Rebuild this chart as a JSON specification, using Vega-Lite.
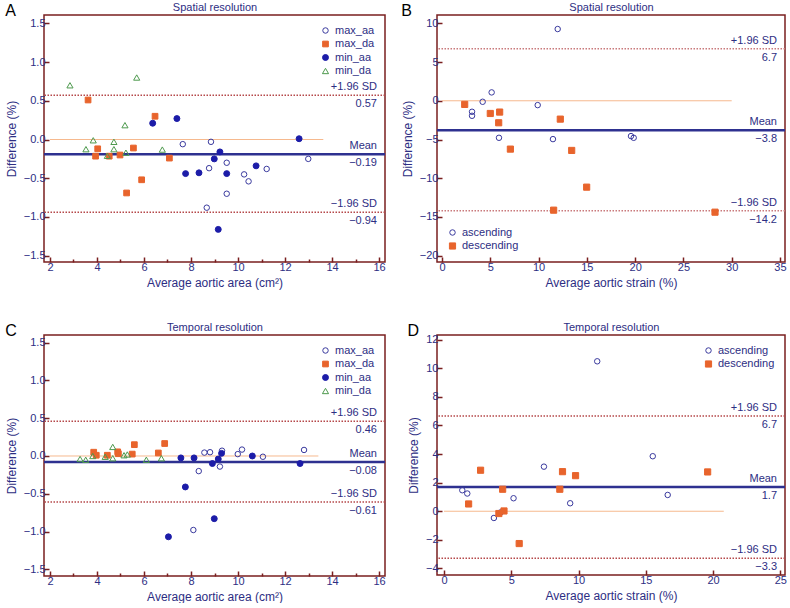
{
  "$schema": "https://vega.github.io/schema/vega-lite/v6.json",
  "padding": {"left": 4, "top": 0, "right": 0, "bottom": 0},
  "background": "white",
  "columns": 2,
  "spacing": {"row": 31, "column": 13},
  "resolve": {"scale": {"shape": "independent", "fill": "independent", "stroke": "independent", "size": "independent"}},
  "concat": [
    {
      "width": 341, "height": 247,
      "title": {"text": "A"},
      "resolve": {"axis": {"x": "independent", "y": "independent"}},
      "layer": [
        {
          "data": {"values": [{"x": 2, "x2": 13.63, "y": 0}]},
          "mark": {"type": "rule", "color": "#F6B98E", "strokeWidth": 1},
          "encoding": {
            "x": {"field": "x", "type": "quantitative", "scale": {"domain": [1.745, 16.255], "nice": false, "zero": false},
              "axis": {"orient": "top", "title": "Spatial resolution", "labels": false, "ticks": false, "domain": false, "titlePadding": 3, "titleFontSize": 11}},
            "x2": {"field": "x2"},
            "y": {"field": "y", "type": "quantitative", "axis": null}
          }
        },
        {
          "data": {"values": [{"v": 0.57}, {"v": -0.94}]},
          "mark": {"type": "rule", "color": "#B5484A", "strokeWidth": 1.5, "strokeDash": [1.5, 1.5]},
          "encoding": {"y": {"field": "v", "type": "quantitative", "axis": null}}
        },
        {
          "data": {"values": [{"v": -0.19}]},
          "mark": {"type": "rule", "color": "#2E3190", "strokeWidth": 2.5},
          "encoding": {"y": {"field": "v", "type": "quantitative", "axis": null}}
        },
        {
          "data": {"values": [
            {"s": "max_aa", "x": 7.65, "y": -0.06}, {"s": "max_aa", "x": 8.85, "y": -0.03}, {"s": "max_aa", "x": 8.77, "y": -0.37},
            {"s": "max_aa", "x": 9.52, "y": -0.30}, {"s": "max_aa", "x": 10.26, "y": -0.45}, {"s": "max_aa", "x": 10.45, "y": -0.54},
            {"s": "max_aa", "x": 11.22, "y": -0.38}, {"s": "max_aa", "x": 12.99, "y": -0.25}, {"s": "max_aa", "x": 9.52, "y": -0.70},
            {"s": "max_aa", "x": 8.67, "y": -0.88},
            {"s": "max_da", "x": 3.62, "y": 0.51}, {"s": "max_da", "x": 6.47, "y": 0.30}, {"s": "max_da", "x": 4.03, "y": -0.12},
            {"s": "max_da", "x": 3.94, "y": -0.215}, {"s": "max_da", "x": 4.52, "y": -0.215}, {"s": "max_da", "x": 4.98, "y": -0.20},
            {"s": "max_da", "x": 5.55, "y": -0.11}, {"s": "max_da", "x": 7.08, "y": -0.24}, {"s": "max_da", "x": 5.90, "y": -0.52},
            {"s": "max_da", "x": 5.26, "y": -0.69},
            {"s": "min_aa", "x": 6.37, "y": 0.21}, {"s": "min_aa", "x": 7.40, "y": 0.27}, {"s": "min_aa", "x": 12.6, "y": 0.01},
            {"s": "min_aa", "x": 9.23, "y": -0.16}, {"s": "min_aa", "x": 8.99, "y": -0.25}, {"s": "min_aa", "x": 7.77, "y": -0.44},
            {"s": "min_aa", "x": 8.34, "y": -0.43}, {"s": "min_aa", "x": 9.52, "y": -0.44}, {"s": "min_aa", "x": 10.77, "y": -0.34},
            {"s": "min_aa", "x": 9.16, "y": -1.16},
            {"s": "min_da", "x": 2.85, "y": 0.70}, {"s": "min_da", "x": 5.69, "y": 0.80}, {"s": "min_da", "x": 5.19, "y": 0.185},
            {"s": "min_da", "x": 3.84, "y": -0.01}, {"s": "min_da", "x": 4.72, "y": -0.03}, {"s": "min_da", "x": 3.53, "y": -0.125},
            {"s": "min_da", "x": 4.72, "y": -0.125}, {"s": "min_da", "x": 4.44, "y": -0.21}, {"s": "min_da", "x": 5.23, "y": -0.17},
            {"s": "min_da", "x": 6.78, "y": -0.13}
          ]},
          "mark": {"type": "point", "filled": true, "strokeWidth": 1, "opacity": 1},
          "encoding": {
            "x": {"field": "x", "type": "quantitative",
              "axis": {"title": "Average aortic area (cm²)", "values": [2,3,4,5,6,7,8,9,10,11,12,13,14,15,16], "format": "d",
                "labelExpr": "datum.value % 2 === 0 ? datum.label : ''",
                "tickSize": {"condition": {"test": "datum.value % 2 !== 0", "value": -3}, "value": -5}}},
            "y": {"field": "y", "type": "quantitative", "scale": {"domain": [-1.581, 1.607], "nice": false, "zero": false},
              "axis": {"title": "Difference (%)", "values": [-1.5, -1, -0.5, 0, 0.5, 1, 1.5], "format": ".1f", "tickSize": -5}},
            "shape": {"field": "s", "type": "nominal", "scale": {"domain": ["max_aa", "max_da", "min_aa", "min_da"], "range": ["circle", "square", "circle", "triangle-up"]},
              "legend": {"title": null, "orient": "top-right", "offset": 10}},
            "fill": {"field": "s", "type": "nominal", "scale": {"domain": ["max_aa", "max_da", "min_aa", "min_da"], "range": ["transparent", "#E8642C", "#1C1CA8", "transparent"]},
              "legend": {"title": null, "orient": "top-right", "offset": 10}},
            "stroke": {"field": "s", "type": "nominal", "scale": {"domain": ["max_aa", "max_da", "min_aa", "min_da"], "range": ["#3A3A9E", "#E8642C", "#1C1CA8", "#4E9A4E"]},
              "legend": {"title": null, "orient": "top-right", "offset": 10}},
            "size": {"field": "s", "type": "nominal", "scale": {"domain": ["max_aa", "max_da", "min_aa", "min_da"], "range": [30, 38, 18, 42]},
              "legend": {"title": null, "orient": "top-right", "offset": 10}}
          }
        },
        {
          "data": {"values": [{"v": 0.57, "t": "+1.96 SD"}, {"v": -0.19, "t": "Mean"}, {"v": -0.94, "t": "−1.96 SD"}]},
          "mark": {"type": "text", "align": "right", "baseline": "middle", "dx": -8, "dy": -8, "fontSize": 11, "color": "#2D2E83"},
          "encoding": {"x": {"datum": 16.255, "type": "quantitative", "axis": null}, "y": {"field": "v", "type": "quantitative", "axis": null}, "text": {"field": "t"}}
        },
        {
          "data": {"values": [{"v": 0.57, "t": "0.57"}, {"v": -0.19, "t": "−0.19"}, {"v": -0.94, "t": "−0.94"}]},
          "mark": {"type": "text", "align": "right", "baseline": "middle", "dx": -8, "dy": 9, "fontSize": 11, "color": "#2D2E83"},
          "encoding": {"x": {"datum": 16.255, "type": "quantitative", "axis": null}, "y": {"field": "v", "type": "quantitative", "axis": null}, "text": {"field": "t"}}
        }
      ]
    },
    {
      "width": 348, "height": 247,
      "title": {"text": "B"},
      "resolve": {"axis": {"x": "independent", "y": "independent"}},
      "layer": [
        {
          "data": {"values": [{"x": 0, "x2": 30, "y": 0}]},
          "mark": {"type": "rule", "color": "#F6B98E", "strokeWidth": 1},
          "encoding": {
            "x": {"field": "x", "type": "quantitative", "scale": {"domain": [-0.518, 35.518], "nice": false, "zero": false},
              "axis": {"orient": "top", "title": "Spatial resolution", "labels": false, "ticks": false, "domain": false, "titlePadding": 3, "titleFontSize": 11}},
            "x2": {"field": "x2"},
            "y": {"field": "y", "type": "quantitative", "axis": null}
          }
        },
        {
          "data": {"values": [{"v": 6.7}, {"v": -14.2}]},
          "mark": {"type": "rule", "color": "#C97A7C", "strokeWidth": 1.5, "strokeDash": [1.5, 1.5]},
          "encoding": {"y": {"field": "v", "type": "quantitative", "axis": null}}
        },
        {
          "data": {"values": [{"v": -3.8}]},
          "mark": {"type": "rule", "color": "#2E3190", "strokeWidth": 2.5},
          "encoding": {"y": {"field": "v", "type": "quantitative", "axis": null}}
        },
        {
          "data": {"values": [
            {"s": "ascending", "x": 11.98, "y": 9.26}, {"s": "ascending", "x": 5.14, "y": 1.08}, {"s": "ascending", "x": 4.21, "y": -0.13},
            {"s": "ascending", "x": 3.11, "y": -1.42}, {"s": "ascending", "x": 3.11, "y": -1.94}, {"s": "ascending", "x": 9.91, "y": -0.56},
            {"s": "ascending", "x": 5.90, "y": -4.78}, {"s": "ascending", "x": 11.49, "y": -4.95}, {"s": "ascending", "x": 19.57, "y": -4.56},
            {"s": "ascending", "x": 19.85, "y": -4.78},
            {"s": "descending", "x": 2.35, "y": -0.47}, {"s": "descending", "x": 5.0, "y": -1.64}, {"s": "descending", "x": 5.97, "y": -1.46},
            {"s": "descending", "x": 5.87, "y": -2.84}, {"s": "descending", "x": 12.25, "y": -2.37}, {"s": "descending", "x": 7.08, "y": -6.24},
            {"s": "descending", "x": 13.43, "y": -6.41}, {"s": "descending", "x": 14.98, "y": -11.15}, {"s": "descending", "x": 11.56, "y": -14.12},
            {"s": "descending", "x": 28.27, "y": -14.38}
          ]},
          "mark": {"type": "point", "filled": true, "strokeWidth": 1, "opacity": 1},
          "encoding": {
            "x": {"field": "x", "type": "quantitative",
              "axis": {"title": "Average aortic strain (%)", "values": [0, 5, 10, 15, 20, 25, 30, 35], "format": "d", "tickSize": -5}},
            "y": {"field": "y", "type": "quantitative", "scale": {"domain": [-20.81, 11.07], "nice": false, "zero": false},
              "axis": {"title": "Difference (%)", "values": [-20, -15, -10, -5, 0, 5, 10], "format": "d", "tickSize": -5}},
            "shape": {"field": "s", "type": "nominal", "scale": {"domain": ["ascending", "descending"], "range": ["circle", "square"]},
              "legend": {"title": null, "orient": "bottom-left", "offset": 10}},
            "fill": {"field": "s", "type": "nominal", "scale": {"domain": ["ascending", "descending"], "range": ["transparent", "#E8642C"]},
              "legend": {"title": null, "orient": "bottom-left", "offset": 10}},
            "stroke": {"field": "s", "type": "nominal", "scale": {"domain": ["ascending", "descending"], "range": ["#3A3A9E", "#E8642C"]},
              "legend": {"title": null, "orient": "bottom-left", "offset": 10}},
            "size": {"field": "s", "type": "nominal", "scale": {"domain": ["ascending", "descending"], "range": [30, 38]},
              "legend": {"title": null, "orient": "bottom-left", "offset": 10}}
          }
        },
        {
          "data": {"values": [{"v": 6.7, "t": "+1.96 SD"}, {"v": -3.8, "t": "Mean"}, {"v": -14.2, "t": "−1.96 SD"}]},
          "mark": {"type": "text", "align": "right", "baseline": "middle", "dx": -8, "dy": -8, "fontSize": 11, "color": "#2D2E83"},
          "encoding": {"x": {"datum": 35.518, "type": "quantitative", "axis": null}, "y": {"field": "v", "type": "quantitative", "axis": null}, "text": {"field": "t"}}
        },
        {
          "data": {"values": [{"v": 6.7, "t": "6.7"}, {"v": -3.8, "t": "−3.8"}, {"v": -14.2, "t": "−14.2"}]},
          "mark": {"type": "text", "align": "right", "baseline": "middle", "dx": -8, "dy": 9, "fontSize": 11, "color": "#2D2E83"},
          "encoding": {"x": {"datum": 35.518, "type": "quantitative", "axis": null}, "y": {"field": "v", "type": "quantitative", "axis": null}, "text": {"field": "t"}}
        }
      ]
    },
    {
      "width": 341, "height": 241,
      "title": {"text": "C"},
      "resolve": {"axis": {"x": "independent", "y": "independent"}},
      "layer": [
        {
          "data": {"values": [{"x": 2, "x2": 13.42, "y": 0}]},
          "mark": {"type": "rule", "color": "#F6B98E", "strokeWidth": 1},
          "encoding": {
            "x": {"field": "x", "type": "quantitative", "scale": {"domain": [1.745, 16.255], "nice": false, "zero": false},
              "axis": {"orient": "top", "title": "Temporal resolution", "labels": false, "ticks": false, "domain": false, "titlePadding": 3, "titleFontSize": 11}},
            "x2": {"field": "x2"},
            "y": {"field": "y", "type": "quantitative", "axis": null}
          }
        },
        {
          "data": {"values": [{"v": 0.46}, {"v": -0.61}]},
          "mark": {"type": "rule", "color": "#B5484A", "strokeWidth": 1.5, "strokeDash": [1.5, 1.5]},
          "encoding": {"y": {"field": "v", "type": "quantitative", "axis": null}}
        },
        {
          "data": {"values": [{"v": -0.08}]},
          "mark": {"type": "rule", "color": "#2E3190", "strokeWidth": 2.5},
          "encoding": {"y": {"field": "v", "type": "quantitative", "axis": null}}
        },
        {
          "data": {"values": [
            {"s": "max_aa", "x": 8.57, "y": 0.045}, {"s": "max_aa", "x": 8.81, "y": 0.05}, {"s": "max_aa", "x": 9.32, "y": 0.07},
            {"s": "max_aa", "x": 10.17, "y": 0.085}, {"s": "max_aa", "x": 9.99, "y": 0.025}, {"s": "max_aa", "x": 11.06, "y": -0.01},
            {"s": "max_aa", "x": 12.81, "y": 0.08}, {"s": "max_aa", "x": 9.23, "y": -0.14}, {"s": "max_aa", "x": 8.33, "y": -0.20},
            {"s": "max_aa", "x": 8.10, "y": -0.98},
            {"s": "max_da", "x": 3.86, "y": 0.05}, {"s": "max_da", "x": 3.97, "y": 0.01}, {"s": "max_da", "x": 4.44, "y": 0.01},
            {"s": "max_da", "x": 4.88, "y": 0.055}, {"s": "max_da", "x": 4.91, "y": 0.03}, {"s": "max_da", "x": 5.50, "y": 0.025},
            {"s": "max_da", "x": 5.59, "y": 0.15}, {"s": "max_da", "x": 6.61, "y": 0.04}, {"s": "max_da", "x": 6.88, "y": 0.165},
            {"s": "min_aa", "x": 7.57, "y": -0.025}, {"s": "min_aa", "x": 8.13, "y": -0.025}, {"s": "min_aa", "x": 9.16, "y": -0.04},
            {"s": "min_aa", "x": 9.30, "y": 0.035}, {"s": "min_aa", "x": 8.91, "y": -0.10}, {"s": "min_aa", "x": 10.61, "y": 0.0},
            {"s": "min_aa", "x": 12.64, "y": -0.10}, {"s": "min_aa", "x": 7.76, "y": -0.41}, {"s": "min_aa", "x": 8.99, "y": -0.83},
            {"s": "min_aa", "x": 7.04, "y": -1.07},
            {"s": "min_da", "x": 3.28, "y": -0.04}, {"s": "min_da", "x": 3.52, "y": -0.05}, {"s": "min_da", "x": 3.82, "y": 0.0},
            {"s": "min_da", "x": 4.35, "y": -0.01}, {"s": "min_da", "x": 4.67, "y": 0.12}, {"s": "min_da", "x": 4.67, "y": -0.03},
            {"s": "min_da", "x": 5.15, "y": 0.01}, {"s": "min_da", "x": 5.29, "y": 0.02}, {"s": "min_da", "x": 6.10, "y": -0.05},
            {"s": "min_da", "x": 6.74, "y": -0.03}
          ]},
          "mark": {"type": "point", "filled": true, "strokeWidth": 1, "opacity": 1},
          "encoding": {
            "x": {"field": "x", "type": "quantitative",
              "axis": {"title": "Average aortic area (cm²)", "values": [2,3,4,5,6,7,8,9,10,11,12,13,14,15,16], "format": "d",
                "labelExpr": "datum.value % 2 === 0 ? datum.label : ''",
                "tickSize": {"condition": {"test": "datum.value % 2 !== 0", "value": -3}, "value": -5}}},
            "y": {"field": "y", "type": "quantitative", "scale": {"domain": [-1.589, 1.602], "nice": false, "zero": false},
              "axis": {"title": "Difference (%)", "values": [-1.5, -1, -0.5, 0, 0.5, 1, 1.5], "format": ".1f", "tickSize": -5}},
            "shape": {"field": "s", "type": "nominal", "scale": {"domain": ["max_aa", "max_da", "min_aa", "min_da"], "range": ["circle", "square", "circle", "triangle-up"]},
              "legend": {"title": null, "orient": "top-right", "offset": 10}},
            "fill": {"field": "s", "type": "nominal", "scale": {"domain": ["max_aa", "max_da", "min_aa", "min_da"], "range": ["transparent", "#E8642C", "#1C1CA8", "transparent"]},
              "legend": {"title": null, "orient": "top-right", "offset": 10}},
            "stroke": {"field": "s", "type": "nominal", "scale": {"domain": ["max_aa", "max_da", "min_aa", "min_da"], "range": ["#3A3A9E", "#E8642C", "#1C1CA8", "#4E9A4E"]},
              "legend": {"title": null, "orient": "top-right", "offset": 10}},
            "size": {"field": "s", "type": "nominal", "scale": {"domain": ["max_aa", "max_da", "min_aa", "min_da"], "range": [30, 38, 18, 42]},
              "legend": {"title": null, "orient": "top-right", "offset": 10}}
          }
        },
        {
          "data": {"values": [{"v": 0.46, "t": "+1.96 SD"}, {"v": -0.08, "t": "Mean"}, {"v": -0.61, "t": "−1.96 SD"}]},
          "mark": {"type": "text", "align": "right", "baseline": "middle", "dx": -8, "dy": -8, "fontSize": 11, "color": "#2D2E83"},
          "encoding": {"x": {"datum": 16.255, "type": "quantitative", "axis": null}, "y": {"field": "v", "type": "quantitative", "axis": null}, "text": {"field": "t"}}
        },
        {
          "data": {"values": [{"v": 0.46, "t": "0.46"}, {"v": -0.08, "t": "−0.08"}, {"v": -0.61, "t": "−0.61"}]},
          "mark": {"type": "text", "align": "right", "baseline": "middle", "dx": -8, "dy": 9, "fontSize": 11, "color": "#2D2E83"},
          "encoding": {"x": {"datum": 16.255, "type": "quantitative", "axis": null}, "y": {"field": "v", "type": "quantitative", "axis": null}, "text": {"field": "t"}}
        }
      ]
    },
    {
      "width": 348, "height": 240,
      "title": {"text": "D"},
      "resolve": {"axis": {"x": "independent", "y": "independent"}},
      "layer": [
        {
          "data": {"values": [{"x": 0, "x2": 20.8, "y": 0}]},
          "mark": {"type": "rule", "color": "#F6B98E", "strokeWidth": 1},
          "encoding": {
            "x": {"field": "x", "type": "quantitative", "scale": {"domain": [-0.52, 25.35], "nice": false, "zero": false},
              "axis": {"orient": "top", "title": "Temporal resolution", "labels": false, "ticks": false, "domain": false, "titlePadding": 3, "titleFontSize": 11}},
            "x2": {"field": "x2"},
            "y": {"field": "y", "type": "quantitative", "axis": null}
          }
        },
        {
          "data": {"values": [{"v": 6.67}, {"v": -3.29}]},
          "mark": {"type": "rule", "color": "#B5484A", "strokeWidth": 1.5, "strokeDash": [1.5, 1.5]},
          "encoding": {"y": {"field": "v", "type": "quantitative", "axis": null}}
        },
        {
          "data": {"values": [{"v": 1.7}]},
          "mark": {"type": "rule", "color": "#2E3190", "strokeWidth": 2.5},
          "encoding": {"y": {"field": "v", "type": "quantitative", "axis": null}}
        },
        {
          "data": {"values": [
            {"s": "ascending", "x": 11.39, "y": 10.49}, {"s": "ascending", "x": 15.52, "y": 3.85}, {"s": "ascending", "x": 7.43, "y": 3.12},
            {"s": "ascending", "x": 16.63, "y": 1.14}, {"s": "ascending", "x": 1.36, "y": 1.47}, {"s": "ascending", "x": 1.73, "y": 1.24},
            {"s": "ascending", "x": 5.17, "y": 0.91}, {"s": "ascending", "x": 9.38, "y": 0.56}, {"s": "ascending", "x": 3.71, "y": -0.47},
            {"s": "ascending", "x": 4.21, "y": -0.08},
            {"s": "descending", "x": 2.72, "y": 2.87}, {"s": "descending", "x": 8.81, "y": 2.77}, {"s": "descending", "x": 9.78, "y": 2.49},
            {"s": "descending", "x": 19.6, "y": 2.75}, {"s": "descending", "x": 4.36, "y": 1.54}, {"s": "descending", "x": 8.61, "y": 1.54},
            {"s": "descending", "x": 1.83, "y": 0.51}, {"s": "descending", "x": 4.08, "y": -0.16}, {"s": "descending", "x": 4.46, "y": 0.02},
            {"s": "descending", "x": 5.59, "y": -2.26}
          ]},
          "mark": {"type": "point", "filled": true, "strokeWidth": 1, "opacity": 1},
          "encoding": {
            "x": {"field": "x", "type": "quantitative",
              "axis": {"title": "Average aortic strain (%)", "values": [0, 5, 10, 15, 20, 25], "format": "d", "tickSize": -5}},
            "y": {"field": "y", "type": "quantitative", "scale": {"domain": [-4.46, 12.33], "nice": false, "zero": false},
              "axis": {"title": "Difference (%)", "values": [-4, -2, 0, 2, 4, 6, 8, 10, 12], "format": "d", "tickSize": -5}},
            "shape": {"field": "s", "type": "nominal", "scale": {"domain": ["ascending", "descending"], "range": ["circle", "square"]},
              "legend": {"title": null, "orient": "top-right", "offset": 10}},
            "fill": {"field": "s", "type": "nominal", "scale": {"domain": ["ascending", "descending"], "range": ["transparent", "#E8642C"]},
              "legend": {"title": null, "orient": "top-right", "offset": 10}},
            "stroke": {"field": "s", "type": "nominal", "scale": {"domain": ["ascending", "descending"], "range": ["#3A3A9E", "#E8642C"]},
              "legend": {"title": null, "orient": "top-right", "offset": 10}},
            "size": {"field": "s", "type": "nominal", "scale": {"domain": ["ascending", "descending"], "range": [30, 38]},
              "legend": {"title": null, "orient": "top-right", "offset": 10}}
          }
        },
        {
          "data": {"values": [{"v": 6.67, "t": "+1.96 SD"}, {"v": 1.7, "t": "Mean"}, {"v": -3.29, "t": "−1.96 SD"}]},
          "mark": {"type": "text", "align": "right", "baseline": "middle", "dx": -8, "dy": -8, "fontSize": 11, "color": "#2D2E83"},
          "encoding": {"x": {"datum": 25.35, "type": "quantitative", "axis": null}, "y": {"field": "v", "type": "quantitative", "axis": null}, "text": {"field": "t"}}
        },
        {
          "data": {"values": [{"v": 6.67, "t": "6.7"}, {"v": 1.7, "t": "1.7"}, {"v": -3.29, "t": "−3.3"}]},
          "mark": {"type": "text", "align": "right", "baseline": "middle", "dx": -8, "dy": 9, "fontSize": 11, "color": "#2D2E83"},
          "encoding": {"x": {"datum": 25.35, "type": "quantitative", "axis": null}, "y": {"field": "v", "type": "quantitative", "axis": null}, "text": {"field": "t"}}
        }
      ]
    }
  ],
  "config": {
    "font": "Liberation Sans",
    "view": {"stroke": "#7A1F1F", "strokeWidth": 1.5},
    "axis": {"domain": false, "grid": false, "labelColor": "#2D2E83", "labelFontSize": 11, "labelPadding": 4,
      "titleColor": "#2D2E83", "titleFontSize": 12, "titleFontWeight": "normal", "titlePadding": 5,
      "tickColor": "#7A1F1F", "tickWidth": 1.5},
    "legend": {"padding": 0, "labelFontSize": 11, "labelColor": "#2D2E83", "rowPadding": 1.5, "labelOffset": 4, "symbolStrokeWidth": 1},
    "title": {"anchor": "start", "frame": "bounds", "fontSize": 16, "fontWeight": "normal", "color": "#000000", "offset": -18}
  }
}
